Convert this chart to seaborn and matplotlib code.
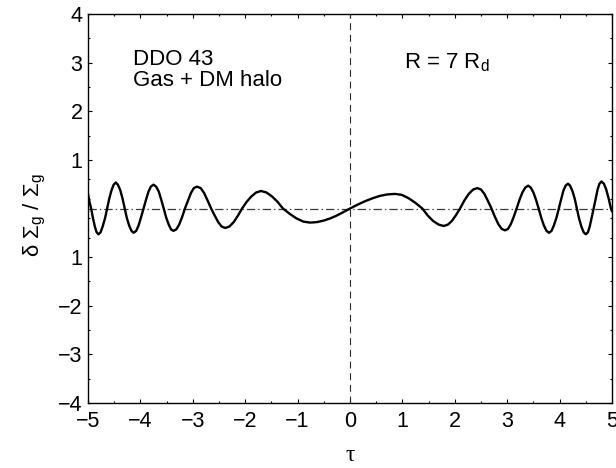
import numpy as np
import pandas as pd
import matplotlib
matplotlib.use("Agg")
import matplotlib.pyplot as plt
from matplotlib.ticker import FixedLocator, FixedFormatter
import seaborn as sns

# Perturbed gas surface density versus tau
tau = [
    -5.00, -4.97, -4.94, -4.905, -4.87, -4.835, -4.80, -4.76, -4.72, -4.675, -4.635,
    -4.595, -4.55, -4.51, -4.47, -4.43, -4.385, -4.34, -4.30,
    -4.26, -4.215, -4.17, -4.13, -4.08, -4.035, -3.99, -3.94,
    -3.89, -3.845, -3.80, -3.75, -3.70, -3.65, -3.605, -3.555,
    -3.51, -3.46, -3.415, -3.37, -3.315, -3.26, -3.205, -3.15,
    -3.09, -3.035, -2.98, -2.92, -2.85, -2.785, -2.72, -2.65,
    -2.58, -2.515, -2.45, -2.38, -2.30, -2.22, -2.14, -2.06,
    -1.97, -1.88, -1.79, -1.70, -1.595, -1.49, -1.385, -1.28,
    -1.15, -1.02, -0.89, -0.76, -0.633, -0.507, -0.38, -0.253, -0.127, 0.0,
    0.143, 0.287, 0.43, 0.573, 0.717, 0.86, 0.99, 1.12, 1.25, 1.38,
    1.48, 1.585, 1.69, 1.79, 1.87, 1.945, 2.02, 2.10,
    2.18, 2.265, 2.35, 2.43, 2.50, 2.565, 2.63, 2.70,
    2.765, 2.83, 2.895, 2.96, 3.015, 3.07, 3.125, 3.18,
    3.235, 3.29, 3.345, 3.40, 3.45, 3.50, 3.55, 3.60,
    3.65, 3.70, 3.75, 3.80, 3.846, 3.89, 3.94, 3.985,
    4.03, 4.07, 4.115, 4.16, 4.20, 4.245, 4.29, 4.33,
    4.37, 4.415, 4.46, 4.50, 4.54, 4.575, 4.61, 4.65,
    4.69, 4.725, 4.76, 4.80, 4.845, 4.89, 4.935, 4.98, 5.00,
]
delta_sigma = [
    0.30, 0.13, 0.00, -0.20, -0.37, -0.49, -0.53, -0.49, -0.37, -0.20, 0.00,
    0.20, 0.38, 0.49, 0.535, 0.49, 0.38, 0.20, 0.00,
    -0.19, -0.35, -0.46, -0.50, -0.46, -0.35, -0.19, 0.00,
    0.19, 0.35, 0.45, 0.49, 0.45, 0.35, 0.19, 0.00,
    -0.18, -0.33, -0.43, -0.46, -0.43, -0.33, -0.18, 0.00,
    0.17, 0.32, 0.42, 0.45, 0.42, 0.32, 0.17, 0.00,
    -0.15, -0.28, -0.37, -0.40, -0.37, -0.28, -0.15, 0.00,
    0.14, 0.25, 0.33, 0.36, 0.33, 0.25, 0.14, 0.00,
    -0.11, -0.205, -0.27, -0.29, -0.28, -0.25, -0.205, -0.145, -0.075, 0.00,
    0.078, 0.15, 0.21, 0.26, 0.29, 0.30, 0.28, 0.21, 0.115, 0.00,
    -0.14, -0.255, -0.33, -0.36, -0.33, -0.255, -0.14, 0.00,
    0.16, 0.30, 0.39, 0.42, 0.39, 0.30, 0.16, 0.00,
    -0.17, -0.32, -0.42, -0.45, -0.42, -0.32, -0.17, 0.00,
    0.18, 0.33, 0.43, 0.47, 0.43, 0.33, 0.18, 0.00,
    -0.19, -0.35, -0.46, -0.50, -0.46, -0.35, -0.19, 0.00,
    0.195, 0.36, 0.47, 0.51, 0.47, 0.36, 0.195, 0.00,
    -0.20, -0.37, -0.49, -0.53, -0.49, -0.37, -0.20, 0.00,
    0.21, 0.39, 0.51, 0.555, 0.51, 0.39, 0.21, 0.00, -0.06,
]

xtick_values = [-5, -4, -3, -2, -1, 0, 1, 2, 3, 4, 5]
xtick_labels = ["\u22125", "\u22124", "\u22123", "\u22122", "\u22121", "0", "1", "2", "3", "4", "5"]
xminor_values = [-4.5, -3.5, -2.5, -1.5, -0.5, 0.5, 1.5, 2.5, 3.5, 4.5]
ytick_values = [-4, -3, -2, -1, 1, 2, 3, 4]
ytick_labels = ["\u22124", "\u22123", "\u22122", "1", "1", "2", "3", "4"]
yminor_values = [-3.5, -2.5, -1.5, -0.6, -0.2, 0.2, 0.6, 1.5, 2.5, 3.5]

sns.set_theme(style="ticks")
plt.rcParams["font.family"] = ["Liberation Sans", "DejaVu Sans"]
plt.rcParams["mathtext.fontset"] = "custom"
plt.rcParams["mathtext.rm"] = "Liberation Sans"
plt.rcParams["mathtext.it"] = "Liberation Sans:italic"
plt.rcParams["lines.scale_dashes"] = False
plt.rcParams["text.color"] = "black"
plt.rcParams["axes.labelcolor"] = "black"

fig = plt.figure(figsize=(6.16, 4.68), dpi=100)
fig.patch.set_facecolor("white")
ax = fig.add_axes([88 / 616, 1 - 403 / 468, 524 / 616, 389 / 468])
ax.set_facecolor("white")

df = pd.DataFrame({"tau": tau, "delta_sigma": delta_sigma})

ax.axhline(0, color="#3a3a3a", lw=0.9, dashes=(6.0, 2.2, 1.0, 2.2), zorder=1)
ax.axvline(0, color="#2a2a2a", lw=0.8, dashes=(5.0, 3.4), zorder=1)
sns.lineplot(data=df, x="tau", y="delta_sigma", color="black", linewidth=1.7,
             sort=False, ax=ax, zorder=3)

ax.set_xlim(-5, 5)
ax.set_ylim(-4, 4)
ax.xaxis.set_major_locator(FixedLocator(xtick_values))
ax.xaxis.set_major_formatter(FixedFormatter(xtick_labels))
ax.xaxis.set_minor_locator(FixedLocator(xminor_values))
ax.yaxis.set_major_locator(FixedLocator(ytick_values))
ax.yaxis.set_major_formatter(FixedFormatter(ytick_labels))
ax.yaxis.set_minor_locator(FixedLocator(yminor_values))

ax.tick_params(which="both", direction="in", top=True, right=True,
               color="black", width=0.8, labelcolor="black")
ax.tick_params(which="major", length=3.2, labelsize=15.5)
ax.tick_params(axis="x", which="major", pad=6)
ax.tick_params(axis="y", which="major", pad=4)
ax.tick_params(which="minor", length=1.7)
for spine in ax.spines.values():
    spine.set_color("black")
    spine.set_linewidth(1.0)

ax.set_xlabel("\u03c4", fontsize=17, color="black",
              family=["Liberation Serif", "DejaVu Serif"])
ax.xaxis.set_label_coords(0.5, -0.108)
ax.set_ylabel("")
fig.text(35 / 616, 1 - 215 / 468, "\u03b4 \u03a3$_{\\mathrm{g}}$ / \u03a3$_{\\mathrm{g}}$",
         rotation=90, ha="center", va="center", fontsize=16, color="black")

ax.text(0.086, 0.869, "DDO 43", transform=ax.transAxes, fontsize=16,
        ha="left", va="baseline", color="black")
ax.text(0.086, 0.815, "Gas + DM halo", transform=ax.transAxes, fontsize=16,
        ha="left", va="baseline", color="black")
ax.text(0.603, 0.860, "R = 7 R$_{\\mathrm{d}}$", transform=ax.transAxes, fontsize=16,
        ha="left", va="baseline", color="black")

fig.savefig("out.png", dpi=100, facecolor="white")
